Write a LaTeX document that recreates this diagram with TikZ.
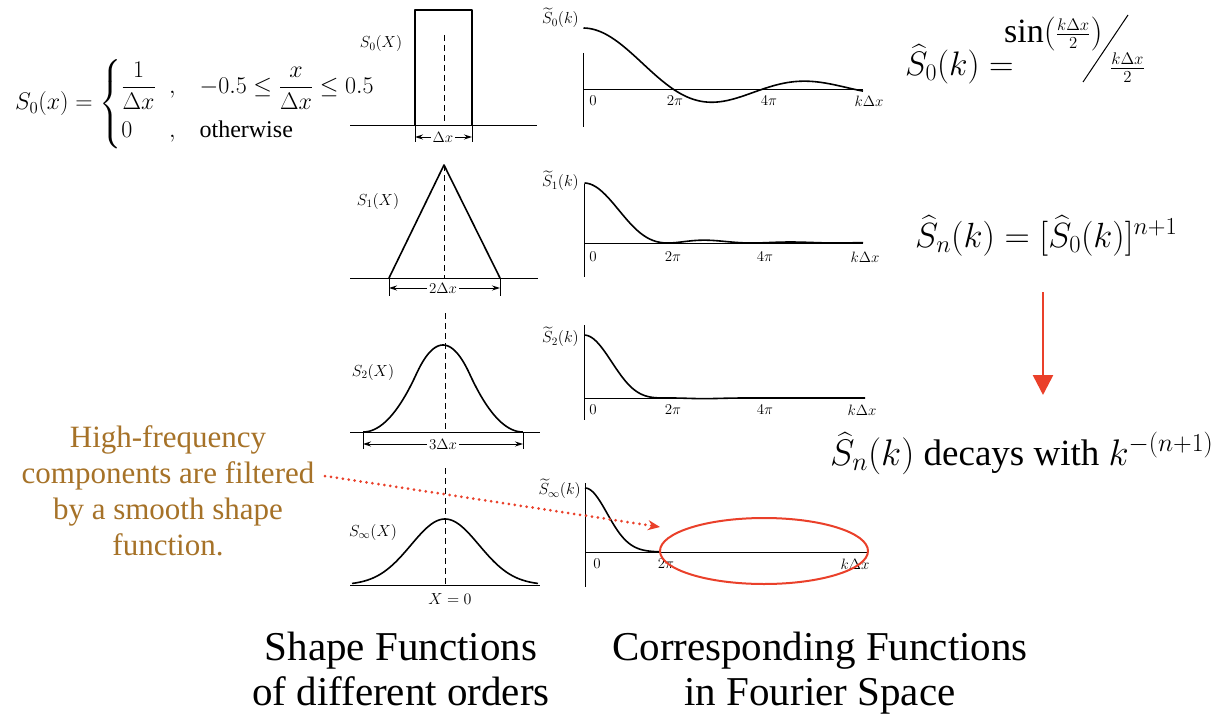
\RequirePackage{fix-cm}
\documentclass[tikz,border=0pt]{standalone}
\usepackage{amsmath}
\usepackage{fontspec}
\setmainfont{Liberation Serif}
\usetikzlibrary{arrows.meta,shapes.geometric}
\definecolor{hfbrown}{RGB}{166,114,40}
\definecolor{hlred}{RGB}{234,64,42}
\begin{document}
\begin{tikzpicture}[x=1pt,y=-1pt,
  declare function={sincb(\t)=sin(\t*2.142857)/(\t*0.0374);},
  curve/.style={line width=1.6pt, line join=round},
  axisline/.style={line width=1pt},
  ctr/.style={line width=0.9pt, dash pattern=on 6pt off 4pt},
  dim/.style={line width=0.9pt, {Stealth[length=8pt,width=5pt]}-{Stealth[length=8pt,width=5pt]}},
  ext/.style={line width=0.9pt},
  slab/.style={font=\fontsize{16}{19}\selectfont, inner sep=1pt},
  flab/.style={font=\fontsize{16}{19}\selectfont, inner sep=1pt, anchor=east},
  klab/.style={font=\fontsize{15}{18}\selectfont, inner sep=1pt},
  dlab/.style={font=\fontsize{15}{18}\selectfont, fill=white, inner sep=2pt},
  big/.style={font=\fontsize{41}{45}\selectfont, inner sep=0pt},
]
\useasboundingbox (0,0) rectangle (1226,717);
\fill[white] (0,0) rectangle (1226,717);

% ---------- left formula ----------
\node[anchor=west, inner sep=0pt, font=\fontsize{24}{29}\selectfont] (s0x) at (15,104)
 {$S_0(x)=\left\{\begin{array}{@{}l@{\;\;}l@{\quad}l}\dfrac{1}{\Delta x} & , & -0.5\le\dfrac{x}{\Delta x}\le 0.5\\[15pt] 0 & , & \text{otherwise}\end{array}\right.$};

% ---------- shape functions ----------
% S0
\draw[axisline] (350,125) -- (537,125);
\draw[curve] (415,125) -- (415,10) -- (472,10) -- (472,125);
\draw[ctr] (444,35) -- (444,125);
\draw[ext] (415,125) -- (415,142) (472,125) -- (472,142);
\draw[dim] (415,137) -- (472,137);
\node[dlab] (d0) at (443,137) {$\Delta x$};
\node[slab] (l0) at (381,44) {$S_0(X)$};
% S1
\draw[axisline] (350,278) -- (538,278);
\draw[curve] (389,278) -- (444,165) -- (500,278);
\draw[ctr] (444,165) -- (444,278);
\draw[ext] (389,278) -- (389,296) (500,278) -- (500,296);
\draw[dim] (389,288) -- (500,288);
\node[dlab] (d1) at (443,288) {$2\Delta x$};
\node[slab] (l1) at (378,201) {$S_1(X)$};
% S2
\draw[axisline] (350,432) -- (540,432);
\draw[curve] plot[domain=-1.5:1.5, samples=121, smooth, variable=\t]
  ({443+53.3*\t}, {432-116*((abs(\t)<0.5) ? (0.75-\t*\t) : (0.5*(1.5-abs(\t))*(1.5-abs(\t))))});
\draw[ctr] (445,313) -- (445,432);
\draw[ext] (363,432) -- (363,449) (523,432) -- (523,449);
\draw[dim] (363,444) -- (523,444);
\node[dlab] (d2) at (443,444) {$3\Delta x$};
\node[slab] (l2) at (373,372) {$S_2(X)$};
% Sinf
\draw[axisline] (350,585) -- (540,585);
\draw[curve] plot[domain=-93:93, samples=121, smooth, variable=\t]
  ({445+\t}, {585-66*exp(-0.5*(\t/34)*(\t/34))});
\draw[ctr] (445,468) -- (445,585);
\node[slab] (l3) at (373,532) {$S_\infty(X)$};
\node[slab] (x0) at (450,599) {$X=0$};

% ---------- Fourier functions ----------
% F0
\draw[axisline] (583,53) -- (583,127);
\draw[axisline] (583,89) -- (863,89);
\draw[curve] plot[domain=0.5:280, samples=160, smooth, variable=\t]
  ({583+\t}, {89-61*sin(2*\t)/(\t*0.034907)});
\node[flab] (fl0) at (580,18) {$\widetilde{S}_0(k)$};
\node[klab] (a00) at (593,101) {$0$};
\node[klab] (a01) at (675,101) {$2\pi$};
\node[klab] (a02) at (769,101) {$4\pi$};
\node[klab] (a03) at (869,101) {$k\Delta x$};
% F1
\draw[axisline] (584,184) -- (584,277);
\draw[axisline] (584,243) -- (863,243);
\draw[curve] plot[domain=0.5:279, samples=160, smooth, variable=\t]
  ({584+\t}, {243-60*sincb(\t)*sincb(\t)});
\node[flab] (fl1) at (580,181) {$\widetilde{S}_1(k)$};
\node[klab] (a10) at (593,257) {$0$};
\node[klab] (a11) at (673,257) {$2\pi$};
\node[klab] (a12) at (765,257) {$4\pi$};
\node[klab] (a13) at (865,257) {$k\Delta x$};
% F2
\draw[axisline] (584,325) -- (584,420);
\draw[axisline] (584,398) -- (865,398);
\draw[curve] plot[domain=0.5:281, samples=160, smooth, variable=\t]
  ({584+\t}, {398-63*sincb(\t)*sincb(\t)*sincb(\t)});
\node[flab] (fl2) at (580,337) {$\widetilde{S}_2(k)$};
\node[klab] (a20) at (593,410) {$0$};
\node[klab] (a21) at (673,410) {$2\pi$};
\node[klab] (a22) at (765,410) {$4\pi$};
\node[klab] (a23) at (862,410) {$k\Delta x$};
% F3
\draw[axisline] (585,483) -- (585,587);
\draw[axisline] (585,552) -- (867,552);
\draw[curve] plot[domain=0:75, samples=70, smooth, variable=\t]
  ({585+\t}, {552-64*exp(-0.5*(\t/22)*(\t/22))});
\node[flab] (fl3) at (582,489) {$\widetilde{S}_\infty(k)$};
\node[klab] (a30) at (597,564) {$0$};
\node[klab] (a31) at (666,564) {$2\pi$};
\node[klab] (a33) at (855,564) {$k\Delta x$};

% ---------- highlight ----------
\node[draw=hlred, line width=2pt, ellipse, minimum width=208pt, minimum height=66pt, inner sep=0pt] (hfzone) at (764,551) {};
\node[align=center, text=hfbrown, font=\fontsize{31}{36}\selectfont] (hf) at (168,491)
  {High-frequency\\components are filtered\\by a smooth shape\\function.};
\coordinate (dstart) at (325,476);
\coordinate (dend) at (660,527);
\draw[hlred, line width=3pt, line cap=round, dash pattern=on 0pt off 6pt,
  -{Stealth[length=12pt,width=10pt]}] (dstart) -- (dend);

% ---------- right formulas ----------
\node[anchor=base west, inner sep=0pt, font=\fontsize{34}{40}\selectfont] (s0k) at (905,75) {$\widehat{S}_0(k)=$};
\node[anchor=base west, inner sep=0pt, font=\fontsize{34}{40}\selectfont] (sinnum) at (1004,43)
  {$\sin($\raisebox{3pt}{\fontsize{24}{28}\selectfont$\frac{k\Delta x}{2}$}$)$};
\coordinate (sl1) at (1083,82);
\coordinate (sl2) at (1128,15);
\draw[line width=1pt] (sl1) -- (sl2);
\node[anchor=base west, inner sep=0pt, font=\fontsize{24}{28}\selectfont] (sinden) at (1110,74) {$\frac{k\Delta x}{2}$};

\node[anchor=base west, inner sep=0pt, font=\fontsize{35}{42}\selectfont] (snk) at (915,247) {$\widehat{S}_n(k)=[\widehat{S}_0(k)]^{n+1}$};
\coordinate (ar1) at (1043,292);
\coordinate (ar2) at (1043,395);
\draw[hlred, line width=2.6pt, -{Triangle[length=20pt,width=20pt]}] (ar1) -- (ar2);
\node[anchor=base west, inner sep=0pt, font=\fontsize{37}{44}\selectfont] (decay) at (830,465) {$\widehat{S}_n(k)$ decays with $k^{-(n+1)}$};

% ---------- captions ----------
\node[anchor=base, big] (sf1) at (401,660) {Shape Functions};
\node[anchor=base, big] (sf2) at (401,705) {of different orders};
\node[anchor=base, big] (cf1) at (820,660) {Corresponding Functions};
\node[anchor=base, big] (cf2) at (820,705) {in Fourier Space};
\end{tikzpicture}
\end{document}
